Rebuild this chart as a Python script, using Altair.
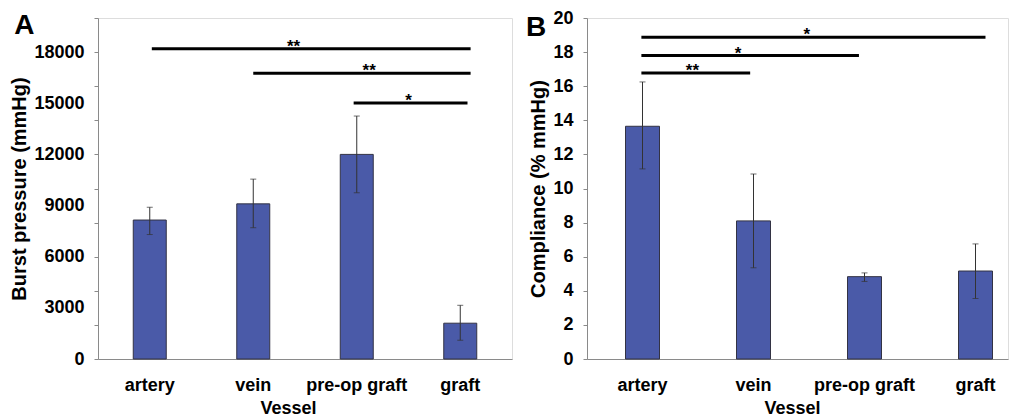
import altair as alt
import pandas as pd

FONT = "Liberation Sans"

categories = ["artery", "vein", "pre-op graft", "graft"]

burst_mean = [8150, 9100, 12000, 2100]
burst_low = [7300, 7700, 9750, 1100]
burst_high = [8900, 10550, 14250, 3150]

comp_mean = [13.65, 8.1, 4.83, 5.16]
comp_low = [11.15, 5.35, 4.55, 3.55]
comp_high = [16.25, 10.85, 5.05, 6.75]

# significance brackets (x in category units: category i centre = i + 0.5)
sigA_start = [0.52, 1.5, 2.47]
sigA_end = [3.6, 3.6, 3.57]
sigA_level = [18200, 16760, 15020]
sigA_label = ["**", "**", "*"]
sigA_textx = [1.89, 2.62, 3.0]

sigB_start = [0.49, 0.49, 0.49]
sigB_end = [3.59, 2.45, 1.47]
sigB_level = [18.87, 17.8, 16.77]
sigB_label = ["*", "*", "**"]
sigB_textx = [1.98, 1.36, 0.95]

# panel letters, placed in the same category / value units
letterA = {"text": "A", "x": -0.81, "y": 19060}
letterB = {"text": "B", "x": -0.55, "y": 18.97}

BAR = "#4a5aa8"
GRAY = "#8a8a8a"


def panel(letter, mean, low, high, s_start, s_end, s_level, s_label, s_textx,
          ytitle, ymax, label_step, tick_step, width, height, step, bar_w,
          vessel_x):
    n = len(categories)
    df = pd.DataFrame({"cat": categories, "mean": mean, "low": low, "high": high})
    sig = pd.DataFrame({"s": s_start, "e": s_end, "lvl": s_level,
                        "lab": s_label, "tx": s_textx})
    let = pd.DataFrame([letter])
    # band scale whose band centres sit at (i + 0.5) * step from the left edge
    pin = 1 - bar_w / step
    span = width / step
    pout = (span - n + pin) / 2
    first_start = step / 2 - bar_w / 2
    align = first_start / (width - step * (n - pin))
    xscale = alt.Scale(domain=categories, paddingInner=pin, paddingOuter=pout,
                       align=align)
    yscale = alt.Scale(domain=[0, ymax], nice=False)
    label_vals = [v for v in range(0, int(ymax) + 1, label_step)]
    tick_vals = list(range(0, int(ymax) + 1, tick_step))

    xaxis = alt.Axis(title="Vessel", labelAngle=0, ticks=False, domainColor=GRAY,
                     labelFont=FONT, labelFontSize=18, labelFontWeight="bold",
                     labelColor="black", labelPadding=17, titleFont=FONT,
                     titleFontSize=18, titleFontWeight="bold", titleColor="black",
                     titlePadding=5, titleX=vessel_x)

    bars = alt.Chart(df).mark_bar(color=BAR, stroke="#333344", strokeWidth=1).encode(
        x=alt.X("cat:N", scale=xscale, sort=categories, axis=xaxis),
        y=alt.Y("mean:Q", scale=yscale,
                axis=alt.Axis(title=ytitle, orient="left", values=label_vals,
                              format="d", ticks=False, domain=True,
                              domainColor=GRAY, grid=False, labelFont=FONT,
                              labelFontSize=18, labelFontWeight="bold",
                              labelColor="black", labelPadding=14,
                              titleFont=FONT, titleFontSize=20,
                              titleFontWeight="bold", titleColor="black",
                              titlePadding=4)),
    )
    errs = alt.Chart(df).mark_rule(color="#333333", strokeWidth=1).encode(
        x=alt.X("cat:N", scale=xscale, sort=categories, axis=None),
        y=alt.Y("low:Q", scale=yscale,
                axis=alt.Axis(title=None, orient="left", values=tick_vals,
                              labels=False, ticks=True, tickSize=4,
                              tickColor=GRAY, domain=False, grid=False)),
        y2="high:Q",
    )
    cap_hi = alt.Chart(df).mark_tick(color="#333333", thickness=1, size=6).encode(
        x=alt.X("cat:N", scale=xscale, sort=categories, axis=None),
        y=alt.Y("high:Q", scale=yscale, axis=None),
    )
    cap_lo = alt.Chart(df).mark_tick(color="#333333", thickness=1, size=6).encode(
        x=alt.X("cat:N", scale=xscale, sort=categories, axis=None),
        y=alt.Y("low:Q", scale=yscale, axis=None),
    )
    qx = alt.Scale(domain=[0, span], nice=False, zero=False)
    sig_lines = alt.Chart(sig).mark_rule(color="black", strokeWidth=3).encode(
        x=alt.X("s:Q", scale=qx, axis=None),
        x2="e:Q",
        y=alt.Y("lvl:Q", scale=yscale, axis=None),
    )
    sig_text = alt.Chart(sig).mark_text(font=FONT, fontSize=17, fontWeight="bold",
                                        color="black", baseline="alphabetic",
                                        dy=3).encode(
        x=alt.X("tx:Q", scale=qx, axis=None),
        y=alt.Y("lvl:Q", scale=yscale, axis=None),
        text="lab:N",
    )
    letter_text = alt.Chart(let).mark_text(font=FONT, fontSize=28,
                                           fontWeight="bold", color="black",
                                           align="left",
                                           baseline="alphabetic").encode(
        x=alt.X("x:Q", scale=qx, axis=None),
        y=alt.Y("y:Q", scale=yscale, axis=None),
        text="text:N",
    )
    return alt.layer(bars, errs, cap_hi, cap_lo, sig_lines, sig_text,
                     letter_text).resolve_scale(x="independent").resolve_axis(
        y="independent").properties(width=width, height=height)


pA = panel(letterA, burst_mean, burst_low, burst_high, sigA_start, sigA_end,
           sigA_level, sigA_label, sigA_textx, "Burst pressure (mmHg)",
           20000, 3000, 2000, 414, 341, 103.5, 33, 190)
pB = panel(letterB, comp_mean, comp_low, comp_high, sigB_start, sigB_end,
           sigB_level, sigB_label, sigB_textx, "Compliance (% mmHg)",
           20, 2, 2, 421, 341, 111, 34, 205)

chart = alt.hconcat(pA, pB, spacing=12).properties(
    padding={"left": 1, "top": 0, "right": 0, "bottom": 0}
).configure_view(stroke=GRAY, strokeWidth=1).configure(background="white")

chart.save("out.html", embed_options={"renderer": "svg", "actions": False})
